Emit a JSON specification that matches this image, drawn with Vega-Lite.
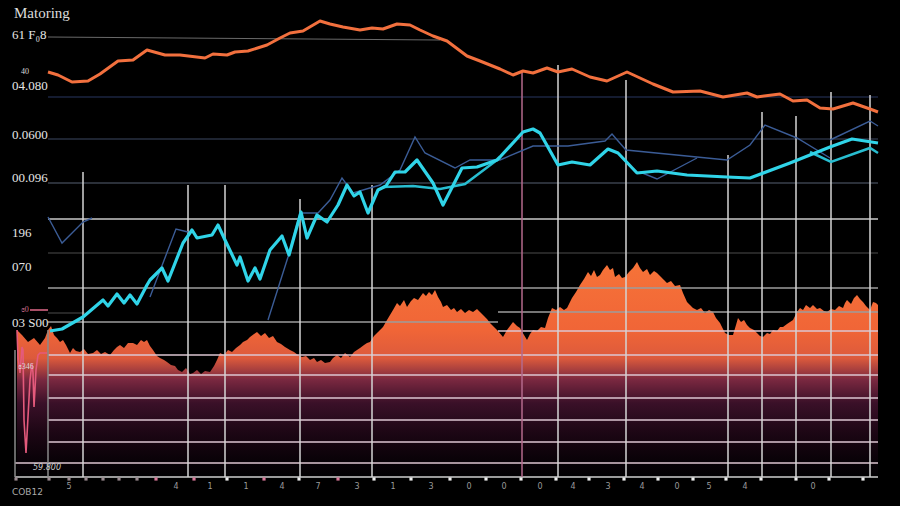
{
  "$schema": "https://vega.github.io/schema/vega-lite/v6.json",
  "width": 830,
  "height": 460,
  "autosize": "none",
  "padding": {"left": 48, "top": 16, "right": 22, "bottom": 30},
  "background": "#000000",
  "config": {"view": {"stroke": null}},
  "title": {"text": "Matoring", "anchor": "start", "frame": "group", "offset": -5, "dx": -34, "font": "Liberation Serif", "fontSize": 15, "fontWeight": "normal", "color": "#dcdcdc"},
  "datasets": {
    "area": [
      {"x":-3.1,"y":14.6},{"x":-2.6,"y":14.1},{"x":-2,"y":13.4},{"x":-1.4,"y":13.8},{"x":-0.8,"y":13.1},{"x":-0.3,"y":13.8},
      {"x":0,"y":14.6},{"x":0.3,"y":15},{"x":0.6,"y":14.1},{"x":0.9,"y":13.8},{"x":1.2,"y":13.4},{"x":1.5,"y":13.6},{"x":1.8,"y":13.1},{"x":2.2,"y":12.3},{"x":2.5,"y":12.8},{"x":2.8,"y":12.5},{"x":3.2,"y":12.4},{"x":3.6,"y":12.7},{"x":4,"y":12.2},{"x":4.5,"y":12.3},{"x":4.9,"y":12.6},{"x":5.3,"y":12.2},{"x":5.7,"y":12.4},{"x":6.2,"y":12.1},{"x":6.6,"y":12.6},{"x":6.9,"y":12.9},{"x":7.2,"y":13.1},{"x":7.6,"y":12.8},{"x":8,"y":13.3},{"x":8.5,"y":13.3},{"x":8.9,"y":13.1},{"x":9.3,"y":13.6},{"x":9.6,"y":13.4},{"x":9.9,"y":13.6},{"x":10.2,"y":13},{"x":10.5,"y":12.6},{"x":10.9,"y":12},{"x":11.2,"y":11.8},{"x":11.6,"y":11.6},{"x":11.9,"y":11.4},{"x":12.3,"y":11.1},{"x":12.7,"y":11},{"x":13,"y":10.6},{"x":13.4,"y":10.4},{"x":13.8,"y":10.8},{"x":14.2,"y":10.2},{"x":14.5,"y":10.3},{"x":14.9,"y":10.6},{"x":15.3,"y":10.2},{"x":15.7,"y":10.5},{"x":16.2,"y":10.4},{"x":16.6,"y":11},{"x":16.9,"y":11.6},{"x":17.2,"y":12.3},{"x":17.6,"y":12.1},{"x":18,"y":12.6},{"x":18.4,"y":12.4},{"x":18.8,"y":12.8},{"x":19.2,"y":13.1},{"x":19.5,"y":13.4},{"x":19.9,"y":13.6},{"x":20.2,"y":13.9},{"x":20.6,"y":14.2},{"x":20.9,"y":14.4},{"x":21.3,"y":14},{"x":21.7,"y":14.3},{"x":22.1,"y":13.8},{"x":22.5,"y":14},{"x":22.9,"y":13.4},{"x":23.3,"y":13.2},{"x":23.7,"y":12.9},{"x":24.2,"y":12.6},{"x":24.6,"y":12.4},{"x":25,"y":12.1},{"x":25.4,"y":11.9},{"x":25.8,"y":12},{"x":26.2,"y":11.6},{"x":26.6,"y":11.8},{"x":26.9,"y":11.4},{"x":27.3,"y":11.6},{"x":27.7,"y":11.3},{"x":28.2,"y":11.4},{"x":28.5,"y":11.8},{"x":28.9,"y":12.1},{"x":29.3,"y":11.8},{"x":29.7,"y":12.3},{"x":30.2,"y":11.9},{"x":30.6,"y":12.4},{"x":30.9,"y":12.6},{"x":31.2,"y":12.8},{"x":31.6,"y":13.1},{"x":31.9,"y":13.3},{"x":32.2,"y":13.4},{"x":32.6,"y":14},{"x":33,"y":14.4},{"x":33.5,"y":14.9},{"x":33.9,"y":15.6},{"x":34.2,"y":16.1},{"x":34.5,"y":16.6},{"x":34.9,"y":17.3},{"x":35.2,"y":17},{"x":35.6,"y":17.6},{"x":35.9,"y":16.9},{"x":36.3,"y":17.5},{"x":36.6,"y":17.8},{"x":37,"y":17.6},{"x":37.5,"y":18.3},{"x":37.8,"y":18},{"x":38.1,"y":18.4},{"x":38.4,"y":18.1},{"x":38.7,"y":18.6},{"x":39,"y":17.9},{"x":39.3,"y":17.4},{"x":39.5,"y":16.9},{"x":39.9,"y":17.1},{"x":40.3,"y":16.6},{"x":40.6,"y":16.8},{"x":40.9,"y":16.4},{"x":41.3,"y":16.7},{"x":41.7,"y":16.3},{"x":42.1,"y":16.6},{"x":42.5,"y":16.4},{"x":42.9,"y":16.7},{"x":43.2,"y":16.4},{"x":43.6,"y":16},{"x":43.9,"y":15.7},{"x":44.2,"y":15.3},{"x":44.6,"y":14.9},{"x":45,"y":14.5},{"x":45.5,"y":13.9},{"x":45.9,"y":14.6},{"x":46.2,"y":15},{"x":46.5,"y":15.4},{"x":46.9,"y":15},{"x":47.2,"y":14.8},{"x":47.6,"y":14.1},{"x":47.9,"y":13.6},{"x":48.2,"y":14.2},{"x":48.5,"y":14.6},{"x":48.9,"y":14.5},{"x":49.3,"y":14.9},{"x":49.7,"y":14.8},{"x":50,"y":15.8},{"x":50.4,"y":16.8},{"x":50.8,"y":16.6},{"x":51.2,"y":16.9},{"x":51.6,"y":16.6},{"x":51.9,"y":16.8},{"x":52.2,"y":17.4},{"x":52.4,"y":17.8},{"x":52.8,"y":18.4},{"x":53.2,"y":19.1},{"x":53.6,"y":19.7},{"x":54,"y":20.4},{"x":54.3,"y":20},{"x":54.6,"y":20.6},{"x":54.9,"y":19.9},{"x":55.2,"y":20.1},{"x":55.5,"y":20.6},{"x":55.9,"y":21.1},{"x":56.2,"y":20.6},{"x":56.5,"y":20.8},{"x":56.7,"y":19.9},{"x":57.1,"y":20.2},{"x":57.4,"y":19.8},{"x":57.7,"y":19.9},{"x":58.1,"y":20.4},{"x":58.5,"y":20.8},{"x":58.9,"y":21.4},{"x":59.2,"y":20.8},{"x":59.5,"y":20.4},{"x":59.9,"y":20.7},{"x":60.2,"y":20.1},{"x":60.6,"y":20.5},{"x":60.9,"y":20.3},{"x":61.3,"y":19.9},{"x":61.6,"y":19.6},{"x":61.9,"y":19.3},{"x":62.3,"y":19.5},{"x":62.7,"y":19},{"x":63.2,"y":19.1},{"x":63.5,"y":18.3},{"x":63.9,"y":17.4},{"x":64.2,"y":17.1},{"x":64.5,"y":16.8},{"x":64.9,"y":16.6},{"x":65.3,"y":16.8},{"x":65.7,"y":16.3},{"x":66.1,"y":16.6},{"x":66.5,"y":16.4},{"x":66.8,"y":15.8},{"x":67.2,"y":15.3},{"x":67.5,"y":14.7},{"x":67.7,"y":14.3},{"x":68.1,"y":14.1},{"x":68.5,"y":14.1},{"x":68.8,"y":15.1},{"x":69,"y":15.8},{"x":69.3,"y":15.4},{"x":69.6,"y":15.6},{"x":69.9,"y":15.1},{"x":70.2,"y":14.8},{"x":70.6,"y":14.6},{"x":70.9,"y":14.3},{"x":71.2,"y":14},{"x":71.5,"y":13.9},{"x":71.9,"y":14.3},{"x":72.2,"y":14.2},{"x":72.5,"y":14.6},{"x":72.9,"y":14.5},{"x":73.2,"y":14.9},{"x":73.5,"y":14.9},{"x":73.9,"y":15.2},{"x":74.2,"y":15.4},{"x":74.5,"y":15.6},{"x":74.9,"y":16.4},{"x":75.2,"y":16.8},{"x":75.5,"y":16.6},{"x":75.8,"y":17.1},{"x":76.2,"y":16.8},{"x":76.5,"y":17.1},{"x":76.9,"y":16.7},{"x":77.2,"y":16.8},{"x":77.6,"y":16.5},{"x":77.9,"y":16.4},{"x":78.3,"y":16.7},{"x":78.7,"y":16.6},{"x":79.1,"y":17},{"x":79.5,"y":16.8},{"x":79.7,"y":17.3},{"x":79.9,"y":17.6},{"x":80.3,"y":17.2},{"x":80.6,"y":17.8},{"x":80.9,"y":18.1},{"x":81.2,"y":17.7},{"x":81.5,"y":17.4},{"x":81.8,"y":17},{"x":82.2,"y":16.6},{"x":82.5,"y":17.4},{"x":82.8,"y":17.3},{"x":83,"y":17.1}
    ],
    "lines": [
      {"s":"or","x":0,"y":40.4},{"s":"or","x":1,"y":40.1},{"s":"or","x":2.4,"y":39.4},{"s":"or","x":4,"y":39.5},{"s":"or","x":5.2,"y":40.2},{"s":"or","x":7,"y":41.5},{"s":"or","x":8.5,"y":41.6},{"s":"or","x":9.9,"y":42.6},{"s":"or","x":11.7,"y":42.1},{"s":"or","x":13.2,"y":42.1},{"s":"or","x":15.7,"y":41.8},{"s":"or","x":16.5,"y":42.2},{"s":"or","x":17.9,"y":42.1},{"s":"or","x":18.7,"y":42.4},{"s":"or","x":20,"y":42.5},{"s":"or","x":21.9,"y":43.1},{"s":"or","x":23.2,"y":43.8},{"s":"or","x":24.2,"y":44.3},{"s":"or","x":25.5,"y":44.5},{"s":"or","x":27.2,"y":45.5},{"s":"or","x":28.2,"y":45.2},{"s":"or","x":29.5,"y":44.9},{"s":"or","x":31.2,"y":44.6},{"s":"or","x":32.4,"y":44.8},{"s":"or","x":33.5,"y":44.7},{"s":"or","x":34.9,"y":45.2},{"s":"or","x":36.2,"y":45.1},{"s":"or","x":37.2,"y":44.6},{"s":"or","x":38.5,"y":44},{"s":"or","x":39.9,"y":43.5},{"s":"or","x":41.9,"y":42},{"s":"or","x":43.2,"y":41.5},{"s":"or","x":45.2,"y":40.7},{"s":"or","x":46.5,"y":40.1},{"s":"or","x":47.5,"y":40.5},{"s":"or","x":48.5,"y":40.3},{"s":"or","x":49.9,"y":40.8},{"s":"or","x":51,"y":40.4},{"s":"or","x":52.4,"y":40.7},{"s":"or","x":54.2,"y":39.9},{"s":"or","x":55.9,"y":39.5},{"s":"or","x":57.9,"y":40.4},{"s":"or","x":60.5,"y":39.2},{"s":"or","x":62.5,"y":38.4},{"s":"or","x":65.2,"y":38.5},{"s":"or","x":67.5,"y":37.9},{"s":"or","x":69.9,"y":38.3},{"s":"or","x":70.9,"y":37.9},{"s":"or","x":73.2,"y":38.2},{"s":"or","x":74.5,"y":37.5},{"s":"or","x":75.9,"y":37.6},{"s":"or","x":77.2,"y":36.8},{"s":"or","x":78.5,"y":36.7},{"s":"or","x":80.5,"y":37.3},{"s":"or","x":82.2,"y":36.7},{"s":"or","x":83,"y":36.4},
      {"s":"gr","x":0,"y":43.9},{"s":"gr","x":39.2,"y":43.6},
      {"s":"cy","x":0.2,"y":14.5},{"s":"cy","x":1.4,"y":14.7},{"s":"cy","x":3.5,"y":15.9},{"s":"cy","x":5.5,"y":17.6},{"s":"cy","x":6,"y":17},{"s":"cy","x":6.9,"y":18.2},{"s":"cy","x":7.6,"y":17.3},{"s":"cy","x":8.2,"y":18.1},{"s":"cy","x":8.9,"y":17.2},{"s":"cy","x":9.9,"y":19.1},{"s":"cy","x":10.2,"y":19.6},{"s":"cy","x":11.4,"y":20.8},{"s":"cy","x":12,"y":19.5},{"s":"cy","x":13.5,"y":23.3},{"s":"cy","x":14.4,"y":24.6},{"s":"cy","x":14.9,"y":23.8},{"s":"cy","x":16.4,"y":24.1},{"s":"cy","x":17,"y":25.1},{"s":"cy","x":17.7,"y":23.6},{"s":"cy","x":18.9,"y":21.1},{"s":"cy","x":19.2,"y":21.9},{"s":"cy","x":20,"y":19.5},{"s":"cy","x":20.7,"y":20.8},{"s":"cy","x":21.2,"y":19.7},{"s":"cy","x":22.2,"y":22.6},{"s":"cy","x":23.4,"y":24},{"s":"cy","x":24.1,"y":22.1},{"s":"cy","x":25.3,"y":26.4},{"s":"cy","x":25.9,"y":23.8},{"s":"cy","x":26.9,"y":26.1},{"s":"cy","x":27.9,"y":25.4},{"s":"cy","x":29,"y":27.1},{"s":"cy","x":29.9,"y":29.1},{"s":"cy","x":30.6,"y":28},{"s":"cy","x":31.2,"y":28.4},{"s":"cy","x":32,"y":26.3},{"s":"cy","x":33,"y":28.6},{"s":"cy","x":33.8,"y":29},{"s":"cy","x":34.7,"y":30.4},{"s":"cy","x":35.7,"y":30.4},{"s":"cy","x":36.9,"y":31.6},{"s":"cy","x":38.5,"y":29.3},{"s":"cy","x":39.5,"y":27.1},{"s":"cy","x":41.4,"y":30.8},{"s":"cy","x":42.9,"y":30.9},{"s":"cy","x":44.9,"y":31.6},{"s":"cy","x":45.2,"y":31.9},{"s":"cy","x":47.5,"y":34.4},{"s":"cy","x":48.5,"y":34.7},{"s":"cy","x":49.2,"y":34.3},{"s":"cy","x":51,"y":31.1},{"s":"cy","x":52.4,"y":31.4},{"s":"cy","x":54.2,"y":31.1},{"s":"cy","x":56,"y":32.7},{"s":"cy","x":57,"y":32.3},{"s":"cy","x":58.9,"y":30.3},{"s":"cy","x":60.9,"y":30.5},{"s":"cy","x":63.9,"y":30.1},{"s":"cy","x":67.9,"y":29.9},{"s":"cy","x":70.2,"y":29.8},{"s":"cy","x":74.2,"y":31.3},{"s":"cy","x":78.2,"y":32.9},{"s":"cy","x":80.4,"y":33.7},{"s":"cy","x":83,"y":33.3},
      {"s":"c2a","x":33.5,"y":28.9},{"s":"c2a","x":36.5,"y":29},{"s":"c2a","x":39.2,"y":28.7},{"s":"c2a","x":41.7,"y":29.2},{"s":"c2a","x":44.9,"y":31.6},
      {"s":"c2b","x":76.2,"y":32.4},{"s":"c2b","x":78.3,"y":31.4},{"s":"c2b","x":82.2,"y":32.8},{"s":"c2b","x":83,"y":32.3},
      {"s":"b1","x":0,"y":25.9},{"s":"b1","x":1.4,"y":23.3},{"s":"b1","x":3.5,"y":25.4},{"s":"b1","x":4.4,"y":25.8},
      {"s":"b2","x":10.2,"y":17.9},{"s":"b2","x":12.8,"y":24.7},{"s":"b2","x":14,"y":24.4},
      {"s":"b3","x":22,"y":15.6},{"s":"b3","x":24,"y":21.9},{"s":"b3","x":25.2,"y":26.3},{"s":"b3","x":27,"y":26.3},{"s":"b3","x":28.2,"y":27.6},{"s":"b3","x":29.4,"y":29.8},{"s":"b3","x":30.5,"y":28.3},{"s":"b3","x":33.2,"y":29.1},{"s":"b3","x":35.2,"y":30.6},{"s":"b3","x":36.7,"y":33.9},{"s":"b3","x":37.7,"y":32.3},{"s":"b3","x":40.7,"y":30.8},{"s":"b3","x":42.2,"y":31.6},{"s":"b3","x":45.2,"y":31.6},{"s":"b3","x":48.5,"y":33},{"s":"b3","x":52,"y":33},{"s":"b3","x":55.7,"y":33.5},{"s":"b3","x":56.4,"y":34.2},{"s":"b3","x":57.8,"y":32.6},{"s":"b3","x":67.9,"y":31.6},{"s":"b3","x":70.2,"y":33.1},{"s":"b3","x":71.7,"y":35.1},{"s":"b3","x":74.9,"y":33.8},{"s":"b3","x":78.2,"y":31.8},
      {"s":"b4","x":59.2,"y":30.4},{"s":"b4","x":60.9,"y":29.7},{"s":"b4","x":64.9,"y":31.8},
      {"s":"b5","x":78.2,"y":33.6},{"s":"b5","x":82.2,"y":35.5},{"s":"b5","x":83,"y":35},
      {"s":"pk","x":-3.1,"y":14.6},{"s":"pk","x":-3.0,"y":11.9},{"s":"pk","x":-2.8,"y":10.3},{"s":"pk","x":-2.6,"y":12.9},{"s":"pk","x":-2.5,"y":12.6},{"s":"pk","x":-2.4,"y":5.6},{"s":"pk","x":-2.2,"y":2.3},{"s":"pk","x":-2.0,"y":5.9},{"s":"pk","x":-1.8,"y":9.6},{"s":"pk","x":-1.6,"y":11.3},{"s":"pk","x":-1.5,"y":10.3},{"s":"pk","x":-1.4,"y":6.9},{"s":"pk","x":-1.2,"y":10.6},{"s":"pk","x":-1.0,"y":12.1},{"s":"pk","x":-0.8,"y":12.3},{"s":"pk","x":-0.1,"y":12.3}
    ],
    "hr": [
      {"y":37.9,"a":0,"b":83,"t":"navy"},
      {"y":33.7,"a":0,"b":83,"t":"navy2"},
      {"y":29.3,"a":0,"b":83,"t":"grayd"},
      {"y":25.7,"a":0,"b":83,"t":"light"},
      {"y":22.3,"a":0,"b":83,"t":"dim"},
      {"y":18.8,"a":0,"b":83,"t":"mid"},
      {"y":15.4,"a":0,"b":45,"t":"mid"},
      {"y":16.4,"a":45,"b":83,"t":"mid"},
      {"y":14.5,"a":45,"b":83,"t":"pw"},
      {"y":12.1,"a":0,"b":83,"t":"pw"},
      {"y":10.1,"a":0,"b":83,"t":"pw"},
      {"y":7.8,"a":0,"b":83,"t":"pw"},
      {"y":5.6,"a":0,"b":83,"t":"pw"},
      {"y":3.4,"a":0,"b":83,"t":"pw"},
      {"y":1.3,"a":-3.3,"b":83,"t":"pw"},
      {"y":-0.1,"a":-3.3,"b":83,"t":"base"},
      {"y":16.6,"a":-1.8,"b":0,"t":"pinkr"},
      {"y":16.3,"a":0,"b":3.7,"t":"dim"}
    ],
    "vr": [
      {"x":-3.3,"top":12.6,"t":"vgray"},
      {"x":0,"top":14.6,"t":"vgray"},
      {"x":3.5,"top":30.4,"t":"vlight"},
      {"x":14,"top":29.1,"t":"vlight"},
      {"x":17.7,"top":29.1,"t":"vlight"},
      {"x":25.2,"top":27.7,"t":"vlight"},
      {"x":32.4,"top":29.1,"t":"vlight"},
      {"x":47.4,"top":40.6,"t":"pink"},
      {"x":51,"top":41.1,"t":"vlight"},
      {"x":57.8,"top":39.6,"t":"vlight"},
      {"x":68,"top":32.1,"t":"vlight"},
      {"x":71.4,"top":36.4,"t":"vlight"},
      {"x":74.8,"top":36,"t":"vlight"},
      {"x":78.3,"top":38.4,"t":"vlight"},
      {"x":82.2,"top":38.1,"t":"vlight"}
    ],
    "dots": [
      {"x":-3.2,"t":"dotg"},{"x":0.1,"t":"dotg"},{"x":2.1,"t":"dotg"},{"x":3.8,"t":"dotg"},{"x":5.5,"t":"dotg"},{"x":7.1,"t":"dotg"},{"x":8.9,"t":"dotg"},
      {"x":10.8,"t":"dotp"},{"x":14.6,"t":"dotp"},{"x":17.9,"t":"dotw"},{"x":21.6,"t":"dotp"},{"x":25.1,"t":"dotw"},{"x":29,"t":"dotp"},{"x":32.6,"t":"dotw"},{"x":36.3,"t":"dotw"},{"x":40.2,"t":"dotw"},{"x":43.8,"t":"dotw"},{"x":47.3,"t":"dotw"},{"x":50.8,"t":"dotw"},{"x":54.1,"t":"dotw"},{"x":57.6,"t":"dotw"},{"x":61,"t":"dotw"},{"x":64.5,"t":"dotw"},{"x":67.8,"t":"dotw"},{"x":71.3,"t":"dotw"},{"x":74.8,"t":"dotw"},{"x":78.1,"t":"dotw"},{"x":81.5,"t":"dotw"}
    ],
    "ticks": [
      {"x":2.1,"t":"5"},{"x":12.8,"t":"4"},{"x":16.2,"t":"1"},{"x":19.8,"t":"1"},{"x":23.4,"t":"4"},{"x":27,"t":"7"},{"x":30.9,"t":"3"},{"x":34.5,"t":"1"},{"x":38.3,"t":"3"},{"x":42.1,"t":"0"},{"x":45.6,"t":"0"},{"x":49.2,"t":"0"},{"x":52.5,"t":"4"},{"x":56,"t":"3"},{"x":59.4,"t":"4"},{"x":62.9,"t":"0"},{"x":66.1,"t":"5"},{"x":69.7,"t":"4"},{"x":76.5,"t":"0"}
    ],
    "ylab": [
      {"y":44.1,"t":"61 F₀8"},{"y":39,"t":"04.080"},{"y":34.1,"t":"0.0600"},{"y":29.8,"t":"00.096"},{"y":24.3,"t":"196"},{"y":20.9,"t":"070"},{"y":15.3,"t":"03 S00"}
    ],
    "notes": [
      {"x":-2.3,"y":40.4,"t":"40","k":"c"},
      {"x":-2.3,"y":16.6,"t":"ɞ0","k":"p"},
      {"x":-2.2,"y":10.9,"t":"ɞ346","k":"c"},
      {"x":-1.5,"y":0.8,"t":"59.800","k":"l"},
      {"x":-3.6,"y":-1.6,"t":"COB12","k":"b"}
    ]
  },
  "layer": [
    {
      "data": {"name": "area"},
      "mark": {"type": "area", "interpolate": "linear", "color": {"gradient": "linear", "x1": 0, "y1": 0, "x2": 0, "y2": 1, "stops": [{"offset": 0, "color": "#f67338"}, {"offset": 0.32, "color": "#f06537"}, {"offset": 0.45, "color": "#dc5a3c"}, {"offset": 0.55, "color": "#7a2840"}, {"offset": 0.66, "color": "#3a1028"}, {"offset": 0.8, "color": "#1c0614"}, {"offset": 0.92, "color": "#0a0208"}, {"offset": 1, "color": "#030103"}]}},
      "encoding": {
        "x": {"field": "x", "type": "quantitative", "scale": {"domain": [0, 83], "nice": false, "zero": false}, "axis": null},
        "y": {"field": "y", "type": "quantitative", "scale": {"domain": [0, 46], "nice": false, "zero": false}, "axis": null}
      }
    },
    {
      "data": {"name": "hr"},
      "mark": {"type": "rule", "strokeWidth": 1.5},
      "encoding": {
        "y": {"field": "y", "type": "quantitative", "axis": null},
        "x": {"field": "a", "type": "quantitative", "axis": null},
        "x2": {"field": "b"},
        "color": {"field": "t", "type": "nominal", "legend": null, "scale": {"domain": ["navy", "navy2", "grayd", "light", "dim", "mid", "pw", "base", "pinkr", "vgray", "vlight", "pink", "dotg", "dotp", "dotw"], "range": ["#1b2540", "#283042", "#3a404c", "#c9c9c9", "#333333", "#9c9c9c", "#dcc6d2", "#cfcfcf", "#e06a8a", "#8a8a8a", "#d4d4d4", "#b56a8c", "#9a8a90", "#d87898", "#eeeeee"]}}
      }
    },
    {
      "data": {"name": "vr"},
      "mark": {"type": "rule", "strokeWidth": 1.5},
      "encoding": {
        "x": {"field": "x", "type": "quantitative", "axis": null},
        "y": {"field": "top", "type": "quantitative", "axis": null},
        "y2": {"datum": -0.1},
        "color": {"field": "t", "type": "nominal", "legend": null}
      }
    },
    {
      "data": {"name": "lines"},
      "transform": [{"filter": "datum.s == 'gr'"}],
      "mark": {"type": "line", "color": "#6a6a6a", "strokeWidth": 1},
      "encoding": {"x": {"field": "x", "type": "quantitative", "axis": null}, "y": {"field": "y", "type": "quantitative", "axis": null}}
    },
    {
      "data": {"name": "lines"},
      "transform": [{"filter": "test(/^b/, datum.s)"}],
      "mark": {"type": "line", "color": "#3b5c96", "strokeWidth": 1.4},
      "encoding": {"x": {"field": "x", "type": "quantitative", "axis": null}, "y": {"field": "y", "type": "quantitative", "axis": null}, "detail": {"field": "s"}}
    },
    {
      "data": {"name": "lines"},
      "transform": [{"filter": "test(/^c2/, datum.s)"}],
      "mark": {"type": "line", "color": "#28bdd0", "strokeWidth": 2.5},
      "encoding": {"x": {"field": "x", "type": "quantitative", "axis": null}, "y": {"field": "y", "type": "quantitative", "axis": null}, "detail": {"field": "s"}}
    },
    {
      "data": {"name": "lines"},
      "transform": [{"filter": "datum.s == 'cy'"}],
      "mark": {"type": "line", "color": "#30d4e8", "strokeWidth": 3.2, "strokeJoin": "round"},
      "encoding": {"x": {"field": "x", "type": "quantitative", "axis": null}, "y": {"field": "y", "type": "quantitative", "axis": null}}
    },
    {
      "data": {"name": "lines"},
      "transform": [{"filter": "datum.s == 'or'"}],
      "mark": {"type": "line", "color": "#f2703e", "strokeWidth": 3, "strokeJoin": "round"},
      "encoding": {"x": {"field": "x", "type": "quantitative", "axis": null}, "y": {"field": "y", "type": "quantitative", "axis": null}}
    },
    {
      "data": {"name": "lines"},
      "transform": [{"filter": "datum.s == 'pk'"}],
      "mark": {"type": "line", "color": "#e45a7c", "strokeWidth": 1.6},
      "encoding": {"x": {"field": "x", "type": "quantitative", "axis": null}, "y": {"field": "y", "type": "quantitative", "axis": null}}
    },
    {
      "data": {"name": "dots"},
      "mark": {"type": "point", "shape": "square", "filled": true, "size": 10, "opacity": 1},
      "encoding": {
        "x": {"field": "x", "type": "quantitative", "axis": null},
        "y": {"datum": -0.3, "type": "quantitative", "axis": null},
        "color": {"field": "t", "type": "nominal", "legend": null}
      }
    },
    {
      "data": {"name": "ticks"},
      "mark": {"type": "text", "fontSize": 8, "color": "#9a9a9a", "font": "DejaVu Sans", "baseline": "middle"},
      "encoding": {
        "x": {"field": "x", "type": "quantitative", "axis": null},
        "y": {"datum": -1.1, "type": "quantitative", "axis": null},
        "text": {"field": "t"}
      }
    },
    {
      "data": {"name": "ylab"},
      "mark": {"type": "text", "fontSize": 13, "color": "#e6e6e6", "font": "Liberation Serif", "baseline": "middle", "align": "left"},
      "encoding": {
        "x": {"datum": -3.6, "type": "quantitative", "axis": null},
        "y": {"field": "y", "type": "quantitative", "axis": null},
        "text": {"field": "t"}
      }
    },
    {
      "data": {"name": "notes"},
      "transform": [{"filter": "datum.k == 'c'"}],
      "mark": {"type": "text", "fontSize": 8, "color": "#dddddd", "font": "Liberation Serif", "baseline": "middle", "align": "center"},
      "encoding": {"x": {"field": "x", "type": "quantitative", "axis": null}, "y": {"field": "y", "type": "quantitative", "axis": null}, "text": {"field": "t"}}
    },
    {
      "data": {"name": "notes"},
      "transform": [{"filter": "datum.k == 'p'"}],
      "mark": {"type": "text", "fontSize": 8, "color": "#d07090", "font": "Liberation Serif", "baseline": "middle", "align": "center"},
      "encoding": {"x": {"field": "x", "type": "quantitative", "axis": null}, "y": {"field": "y", "type": "quantitative", "axis": null}, "text": {"field": "t"}}
    },
    {
      "data": {"name": "notes"},
      "transform": [{"filter": "datum.k == 'l'"}],
      "mark": {"type": "text", "fontSize": 8, "color": "#cccccc", "font": "DejaVu Sans", "fontStyle": "italic", "baseline": "middle", "align": "left"},
      "encoding": {"x": {"field": "x", "type": "quantitative", "axis": null}, "y": {"field": "y", "type": "quantitative", "axis": null}, "text": {"field": "t"}}
    },
    {
      "data": {"name": "notes"},
      "transform": [{"filter": "datum.k == 'b'"}],
      "mark": {"type": "text", "fontSize": 9, "color": "#aaaaaa", "font": "DejaVu Sans", "baseline": "middle", "align": "left"},
      "encoding": {"x": {"field": "x", "type": "quantitative", "axis": null}, "y": {"field": "y", "type": "quantitative", "axis": null}, "text": {"field": "t"}}
    }
  ]
}
